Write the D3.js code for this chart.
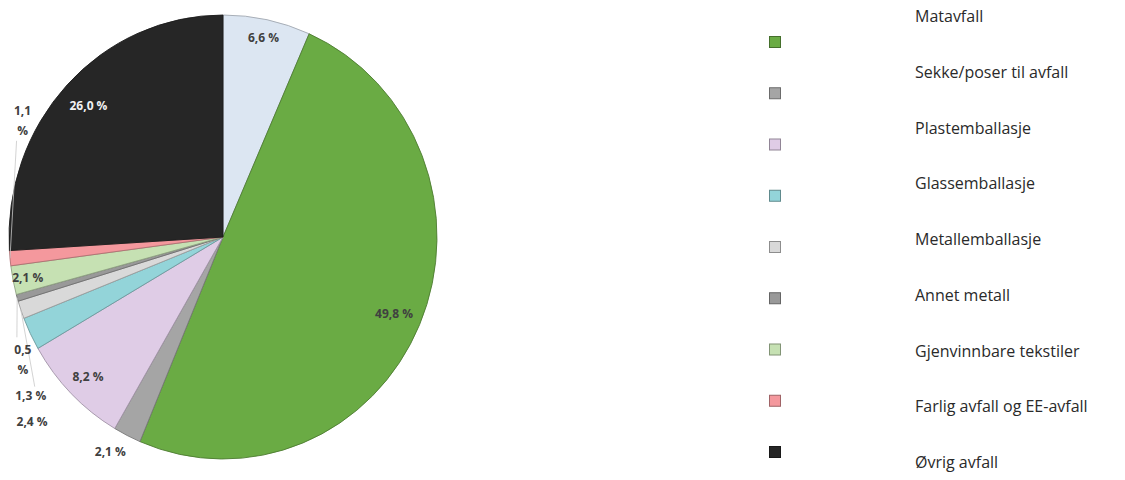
<!DOCTYPE html>
<html>
<head>
<meta charset="utf-8">
<script src="https://cdn.jsdelivr.net/npm/d3@7"></script>
<style>
  body { margin: 0; background: #fff; }
  svg { display: block; }
</style>
</head>
<body>
<svg width="1125" height="480"></svg>
<script>
// kategorier i samme rekkefølge som i diagrammet (med klokka fra kl. 12)
var categories = ['Papir og papp', 'Matavfall', 'Sekke/poser til avfall', 'Plastemballasje',
    'Glassemballasje', 'Metallemballasje', 'Annet metall', 'Gjenvinnbare tekstiler',
    'Farlig avfall og EE-avfall', 'Øvrig avfall'];
var shares = [6.6, 49.8, 2.1, 8.2, 2.4, 1.3, 0.5, 2.1, 1.1, 26.0];
var colors = ['#dce6f2', '#6aab44', '#a5a5a5', '#dfcce6', '#93d4d9', '#d9d9d9',
    '#999999', '#c6e1b3', '#f4989d', '#262626'];

// plassering av dataetiketter: k = andel av radius, a = vinkel (grader) når etiketten er flyttet
var labelPlace = [
    { k: 0.92 }, { k: 0.87 }, { a: 208.6, k: 1.10 }, { k: 0.89 },
    { a: 227, k: 1.22 }, { a: 231.5, k: 1.148, leader: true },
    { a: 239.7, k: 1.083, wrap: true, leader: true }, { k: 0.93 },
    { a: 299.4, k: 1.075, wrap: true, leader: true }, { k: 0.863, light: true }
];

var cx = 223, cy = 237, rx = 214, ry = 222;
var svg = d3.select('svg');

var pie = d3.pie().sort(null).value(function (d) { return d; });
var arcs = pie(shares);
var arc = d3.arc().innerRadius(0).outerRadius(rx);

function fmt(v) { return v.toFixed(1).replace('.', ','); }

// punkt på ellipsen for vinkel (radianer, med klokka fra topp)
function pt(angle, k) {
    return [cx + rx * k * Math.sin(angle), cy - ry * k * Math.cos(angle)];
}

var g = svg.append('g')
    .attr('transform', 'translate(' + cx + ',' + cy + ') scale(1,' + (ry / rx) + ')');

g.selectAll('path')
    .data(arcs)
    .enter()
    .append('path')
    .attr('d', arc)
    .attr('fill', function (d, i) { return colors[i]; })
    .attr('stroke', function (d, i) { return d3.color(colors[i]).darker(0.9); })
    .attr('stroke-width', 0.9)
    .attr('vector-effect', 'non-scaling-stroke');

// ledelinjer
arcs.forEach(function (d, i) {
    var p = labelPlace[i];
    if (!p.leader) return;
    var mid = (d.startAngle + d.endAngle) / 2;
    var lp = pt(p.a * Math.PI / 180, p.k);
    var tp = pt(mid, 1.0);
    var off = p.wrap ? 21 : 9;
    var dir = tp[1] < lp[1] ? -1 : 1;
    svg.append('line')
        .attr('x1', lp[0] - 6 + (p.wrap ? 0 : 10)).attr('y1', lp[1] + dir * off)
        .attr('x2', tp[0]).attr('y2', tp[1])
        .attr('stroke', '#c8c8c8')
        .attr('stroke-width', 0.8);
});

// dataetiketter
var labels = svg.append('g')
    .attr('font-family', '"Open Sans", sans-serif')
    .attr('font-size', 12)
    .attr('font-weight', 'bold');

arcs.forEach(function (d, i) {
    var p = labelPlace[i];
    var mid = (d.startAngle + d.endAngle) / 2;
    var ang = p.a !== undefined ? p.a * Math.PI / 180 : mid;
    var pos = pt(ang, p.k);
    var t = labels.append('text')
        .attr('x', pos[0]).attr('y', pos[1])
        .attr('text-anchor', 'middle')
        .attr('dominant-baseline', 'central')
        .attr('fill', p.light ? '#f2f2f2' : '#404040');
    if (p.wrap) {
        t.append('tspan').attr('x', pos[0]).attr('dy', '-0.8em').text(fmt(shares[i]));
        t.append('tspan').attr('x', pos[0]).attr('dy', '1.65em').text('%');
    } else {
        t.text(fmt(shares[i]) + ' %');
    }
});

// tegnforklaring (ruter og tekst står litt forskjøvet i originalen)
var sqY = d3.scaleLinear().domain([1, 9]).range([42, 452]);
var txtY = d3.scaleLinear().domain([1, 9]).range([22, 468]);
var legend = svg.append('g');

legend.selectAll('rect')
    .data(categories)
    .enter()
    .append('rect')
    .attr('x', 769.5)
    .attr('y', function (d, i) { return sqY(i) - 5.5; })
    .attr('width', 11)
    .attr('height', 11)
    .attr('fill', function (d, i) { return colors[i]; })
    .attr('stroke', function (d, i) { return d3.color(colors[i]).darker(1.2); })
    .attr('stroke-width', 1);

legend.selectAll('text')
    .data(categories.filter(function (d, i) { return txtY(i) > 0; }))
    .enter()
    .append('text')
    .attr('x', 915)
    .attr('y', function (d) { return txtY(categories.indexOf(d)); })
    .attr('font-family', '"Open Sans", sans-serif')
    .attr('font-size', 16)
    .attr('fill', '#2a2a2a')
    .text(function (d) { return d; });
</script>
</body>
</html>
